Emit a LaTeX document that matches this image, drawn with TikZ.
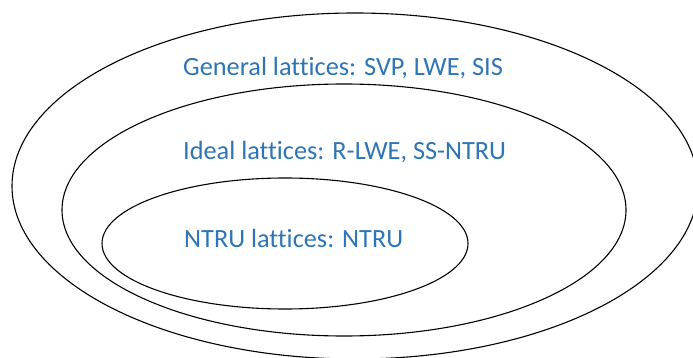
\documentclass[tikz,border=0pt]{standalone}
\usepackage{xcolor}
\usepackage{tikz}
\usepackage{fontspec}
\setmainfont{Carlito}[Ligatures={NoCommon,NoRequired,NoContextual}]
\definecolor{lattblue}{HTML}{2E75B6}

\begin{document}
\begin{tikzpicture}[x=1pt,y=-1pt]
        \useasboundingbox (0,0) rectangle (693,358);
        \begin{scope}[every path/.style={draw=black,line width=1.1pt}]
          \path (355,186) ellipse [x radius=343, y radius=173];
          \path (344,210) ellipse [x radius=282, y radius=126];
          \path (285,243.5) ellipse [x radius=183, y radius=65.5];
        \end{scope}
        \begin{scope}[every node/.style={anchor=base west,inner sep=0pt,text=lattblue,font=\fontsize{26.3}{30}\selectfont}]
          \node (general) at (183,76) {General lattices: SVP, LWE, SIS};
          \node (ideal) at (183,160) {Ideal lattices: R-LWE, SS-NTRU};
          \node (ntru) at (184,247) {NTRU lattices: NTRU};
        \end{scope}
      \end{tikzpicture}
\end{document}
